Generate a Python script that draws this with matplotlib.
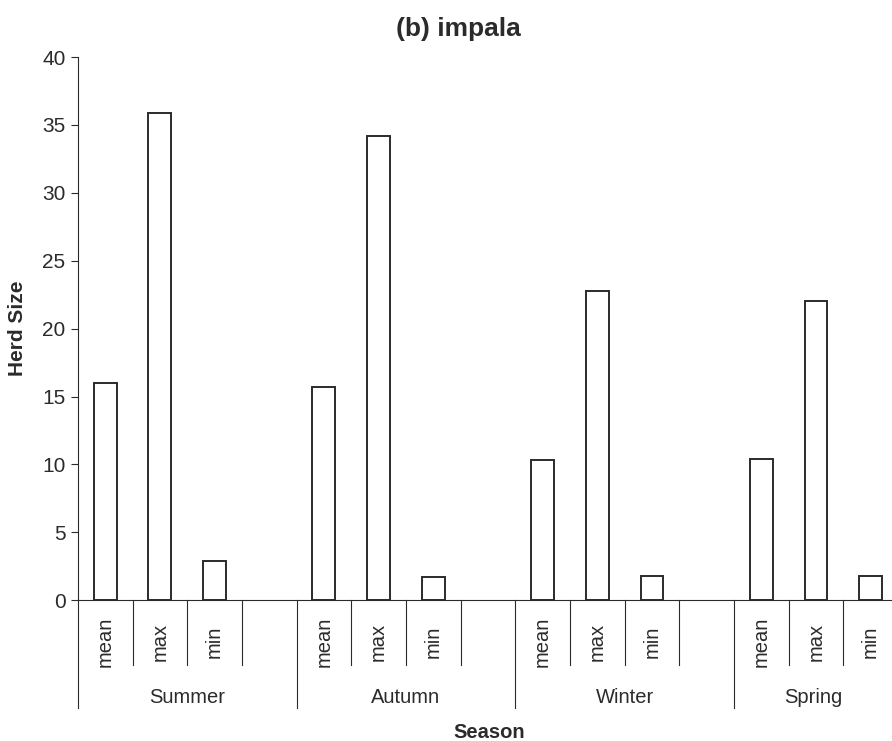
import matplotlib.pyplot as plt
import matplotlib.transforms as mtransforms
import numpy as np

seasons = ["Summer", "Autumn", "Winter", "Spring"]
stats = ["mean", "max", "min"]
mean_size = [16.0, 15.7, 10.3, 10.4]
max_size = [35.9, 34.2, 22.8, 22.0]
min_size = [2.9, 1.7, 1.8, 1.8]

ink = "#2b2b2b"
plt.rcParams['font.family'] = ['Liberation Sans', 'DejaVu Sans']

fig = plt.figure(figsize=(8.92, 7.41), dpi=100)
ax = fig.add_axes([0.0874, 0.19, 1 - 0.0874, 0.733])

slots_per_group = 4
x_right = 14.89
values = [mean_size, max_size, min_size]
for g in range(len(seasons)):
    for s in range(len(stats)):
        x = g * slots_per_group + s + 0.5
        ax.bar(x, values[s][g], width=0.42, color="white", edgecolor=ink, linewidth=1.4)

ax.set_xlim(0, x_right)
ax.set_ylim(0, 40)
ax.set_yticks(np.arange(0, 41, 5))
ax.tick_params(axis='y', direction='out', length=5, width=0.8, color=ink,
               labelsize=15, labelcolor=ink, pad=4)
ax.set_xticks([])
for side in ["top", "right"]:
    ax.spines[side].set_visible(False)
for side in ["left", "bottom"]:
    ax.spines[side].set_color(ink)
    ax.spines[side].set_linewidth(0.8)

# two-level category axis below the plot
trans = mtransforms.blended_transform_factory(ax.transData, ax.transAxes)
n_slots = len(seasons) * slots_per_group
for i in range(n_slots + 1):
    bottom = -0.199 if i % slots_per_group == 0 else -0.12
    ax.plot([i, i], [0, bottom], transform=trans, color=ink, lw=0.8, clip_on=False)

for g, season in enumerate(seasons):
    for s, st in enumerate(stats):
        x = g * slots_per_group + s + 0.5
        ax.text(x, -0.077, st, transform=trans, rotation=90, ha='center', va='center',
                fontsize=14.5, color=ink, clip_on=False)
    start = g * slots_per_group
    mid = (start + min(start + slots_per_group, x_right)) / 2
    ax.text(mid, -0.179, season, transform=trans, ha='center',
            va='center', fontsize=14.5, color=ink, clip_on=False)

fig.text(489 / 892, 1 - 732 / 741, "Season", ha='center', va='center',
         fontsize=14.5, fontweight='bold', color=ink)
fig.text(18 / 892, 1 - 328 / 741, "Herd Size", rotation=90, ha='center', va='center',
         fontsize=15, fontweight='bold', color=ink)
fig.text(458 / 892, 1 - 29 / 741, "(b) impala", ha='center', va='center', fontsize=19,
         fontweight='bold', color=ink)

fig.savefig("out.png", dpi=100)
